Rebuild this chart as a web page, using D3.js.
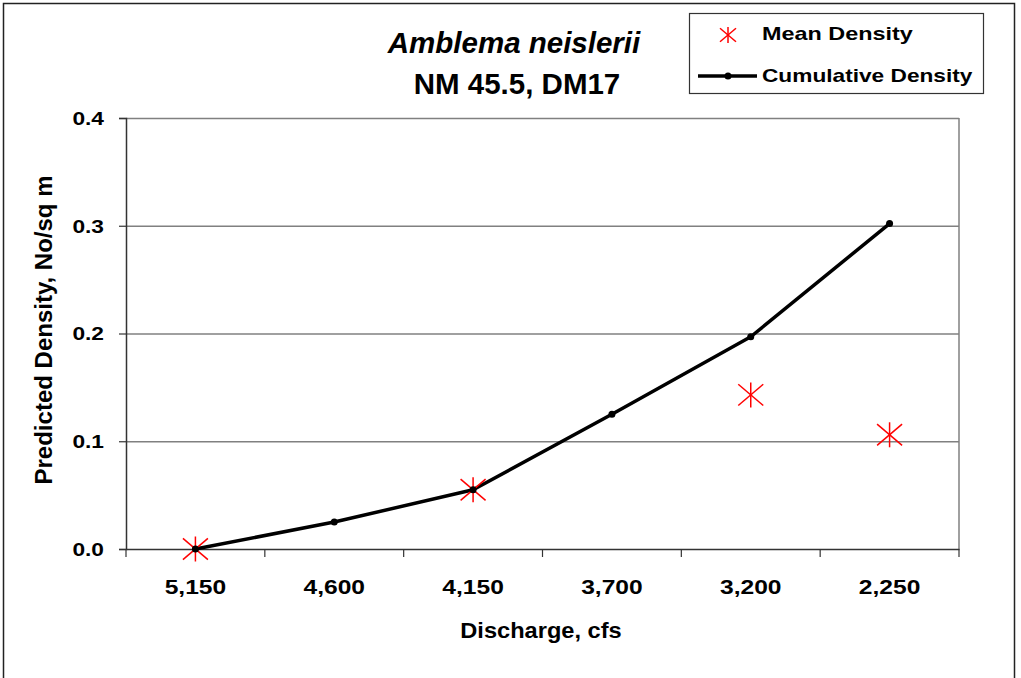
<!DOCTYPE html>
<html>
<head>
  <meta charset="utf-8">
  <title>Amblema neislerii</title>
  <script src="https://cdnjs.cloudflare.com/ajax/libs/d3/7.8.5/d3.min.js"></script>
  <style>
    html, body { margin: 0; padding: 0; background: #fff; }
    svg { display: block; font-family: "Liberation Sans", Arial, sans-serif; }
  </style>
</head>
<body>
  <svg id="chart" width="1021" height="678"></svg>
  <script>
    // data
    const categories = ['5,150', '4,600', '4,150', '3,700', '3,200', '2,250']
    const cumulative = [0, 0.025, 0.055, 0.125, 0.197, 0.302]
    const mean = [0, null, 0.055, null, 0.143, 0.106]
    const yTicks = [0, 0.1, 0.2, 0.3, 0.4]

    const svg = d3.select('#chart')
    const pLeft = 126, pRight = 959, pTop = 118, pBottom = 549
    const font = '"Liberation Sans", Arial, sans-serif'

    // the original text is a bit wide, so stretch it horizontally
    const wideText = (x, y, size, sx, str, anchor) =>
      svg.append('text')
        .attr('transform', `translate(${x},${y}) scale(${sx},1)`)
        .attr('text-anchor', anchor || 'start')
        .attr('font-size', size).attr('font-weight', 'bold')
        .text(str)

    // outer border
    svg.append('rect')
      .attr('x', 3.5).attr('y', 3.5).attr('width', 1011).attr('height', 680)
      .attr('fill', 'none').attr('stroke', '#222').attr('stroke-width', 1.5)

    const x = d3.scaleBand().domain(categories).range([pLeft, pRight])
    const y = d3.scaleLinear().domain([0, 0.4]).range([pBottom, pTop])

    // gridlines
    svg.append('g').selectAll('line')
      .data(yTicks.slice(1))
      .join('line')
      .attr('x1', pLeft).attr('x2', pRight)
      .attr('y1', d => y(d) + 0.5).attr('y2', d => y(d) + 0.5)
      .attr('stroke', '#808080').attr('stroke-width', 1.5)

    // right frame
    svg.append('line')
      .attr('x1', pRight).attr('x2', pRight).attr('y1', pTop).attr('y2', pBottom)
      .attr('stroke', '#808080').attr('stroke-width', 1.5)

    // y axis
    const ySx = 1.3
    const yAxis = svg.append('g')
      .attr('transform', `translate(${pLeft},0)`)
      .call(d3.axisLeft(y).tickValues(yTicks).tickFormat(d3.format('.1f')).tickSize(7).tickPadding(15))
    yAxis.select('.domain').attr('stroke', '#333').attr('stroke-width', 1.5)
    yAxis.selectAll('.tick line').attr('stroke', '#333').attr('stroke-width', 1.2)
    yAxis.selectAll('text')
      .attr('font-size', 17.5).attr('font-weight', 'bold').attr('fill', '#000')
      .attr('font-family', font)
      .attr('x', -22 / ySx).attr('dy', '0.36em')
      .attr('transform', `scale(${ySx},1)`)

    // x axis, ticks on the category boundaries
    const xAxis = svg.append('g')
      .attr('transform', `translate(0,${pBottom})`)
      .call(d3.axisBottom(x).tickSize(0).tickPadding(30))
    xAxis.select('.domain').attr('stroke', '#333').attr('stroke-width', 1.5)
    xAxis.selectAll('text')
      .attr('font-size', 20.5).attr('font-weight', 'bold').attr('fill', '#000')
      .attr('font-family', font)
      .attr('transform', 'scale(1.2,1)')
    xAxis.selectAll('.tick').each(function () {
      // scale around the tick position, not the group origin
      const t = d3.select(this)
      t.select('text').attr('x', 0)
    })
    const bounds = categories.map(c => x(c)).concat([pRight])
    xAxis.selectAll('.bound')
      .data(bounds)
      .join('line')
      .attr('class', 'bound')
      .attr('x1', d => d).attr('x2', d => d)
      .attr('y1', 0).attr('y2', 8)
      .attr('stroke', '#333').attr('stroke-width', 1.2)

    const cx = c => x(c) + x.bandwidth() / 2

    // cumulative line
    const line = d3.line()
      .x((d, i) => cx(categories[i]))
      .y(d => y(d))
    svg.append('path')
      .datum(cumulative)
      .attr('d', line)
      .attr('fill', 'none').attr('stroke', '#000').attr('stroke-width', 3.5)
      .attr('stroke-linejoin', 'round')

    // mean density stars
    const star = (g, s) => {
      g.append('line').attr('x1', 0).attr('x2', 0).attr('y1', -s).attr('y2', s)
      g.append('line').attr('x1', -s).attr('x2', s).attr('y1', -s * 0.85).attr('y2', s * 0.85)
      g.append('line').attr('x1', -s).attr('x2', s).attr('y1', s * 0.85).attr('y2', -s * 0.85)
    }
    svg.append('g').selectAll('g')
      .data(mean.map((v, i) => ({ v, c: categories[i] })).filter(d => d.v !== null))
      .join('g')
      .attr('transform', d => `translate(${cx(d.c)},${y(d.v)})`)
      .attr('stroke', '#ff0000').attr('stroke-width', 1.5)
      .each(function () { star(d3.select(this), 12.5) })

    // cumulative dots
    svg.append('g').selectAll('circle')
      .data(cumulative)
      .join('circle')
      .attr('cx', (d, i) => cx(categories[i]))
      .attr('cy', d => y(d))
      .attr('r', 3.5)
      .attr('fill', '#000')

    // titles
    svg.append('text')
      .attr('x', 514).attr('y', 53)
      .attr('text-anchor', 'middle')
      .attr('font-size', 29.5).attr('font-style', 'italic').attr('font-weight', 'bold')
      .text('Amblema neislerii')
    svg.append('text')
      .attr('x', 517).attr('y', 94)
      .attr('text-anchor', 'middle')
      .attr('font-size', 29.5).attr('font-weight', 'bold')
      .text('NM 45.5, DM17')

    wideText(541, 638, 22.5, 1.05, 'Discharge, cfs', 'middle')

    svg.append('text')
      .attr('transform', 'translate(52,330) rotate(-90)')
      .attr('text-anchor', 'middle')
      .attr('font-size', 24).attr('font-weight', 'bold')
      .text('Predicted Density, No/sq m')

    // legend
    const lg = svg.append('g')
    lg.append('rect')
      .attr('x', 689.5).attr('y', 13.5).attr('width', 294).attr('height', 80)
      .attr('fill', '#fff').attr('stroke', '#333').attr('stroke-width', 1.2)
    const ls = lg.append('g')
      .attr('transform', 'translate(728,35)')
      .attr('stroke', '#ff0000').attr('stroke-width', 1.5)
    star(ls, 8)
    lg.append('line')
      .attr('x1', 698).attr('x2', 757).attr('y1', 76).attr('y2', 76)
      .attr('stroke', '#000').attr('stroke-width', 3.5)
    lg.append('circle').attr('cx', 728).attr('cy', 76).attr('r', 3.5).attr('fill', '#000')
    wideText(762, 40, 18, 1.3, 'Mean Density')
    wideText(762, 82, 18, 1.26, 'Cumulative Density')
  </script>
</body>
</html>
